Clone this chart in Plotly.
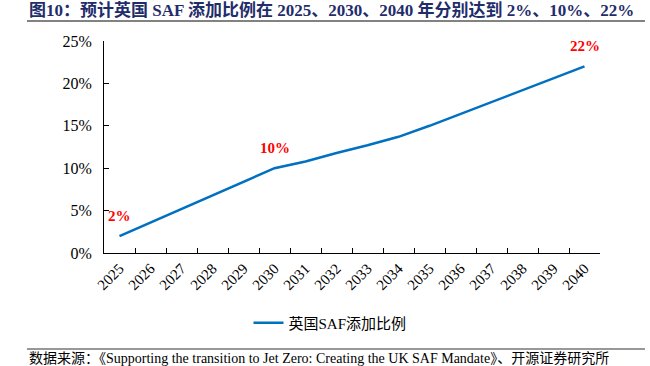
import plotly.graph_objects as go

years = [str(y) for y in range(2025, 2041)]
saf_share = [2.0, 3.6, 5.2, 6.8, 8.4, 10.0, 10.8, 11.8, 12.7, 13.7, 15.0, 16.4, 17.8, 19.2, 20.6, 22.0]
label_years = ["2025", "2030", "2040"]
label_texts = ["2%", "10%", "22%"]
series_name = "英国SAF添加比例"
title_text = "图10：预计英国 SAF 添加比例在 2025、2030、2040 年分别达到 2%、10%、22%"
source_text = "数据来源：《Supporting the transition to Jet Zero: Creating the UK SAF Mandate》、开源证券研究所"

SERIF = "Liberation Serif, Times New Roman, Noto Sans CJK SC, serif"

W, H = 650, 366
L, R, T, B = 104, 50, 41, 113
pw, ph = W - L - R, H - T - B

def px_x(p):
    return (p - L) / pw

def px_y(p):
    return (H - B - p) / ph

fig = go.Figure()
fig.add_trace(go.Scatter(
    x=years, y=saf_share, mode="lines", name=series_name,
    line=dict(color="#0070C0", width=2.5),
))

annotations = []
for yr, txt in zip(label_years, label_texts):
    i = years.index(yr)
    annotations.append(dict(
        x=i, y=saf_share[i], xref="x", yref="y",
        text=f"<b>{txt}</b>", showarrow=False, yshift=20,
        font=dict(family=SERIF, size=15, color="#FF0000"),
    ))

annotations.append(dict(
    x=px_x(27), y=px_y(10), xref="paper", yref="paper",
    xanchor="left", yanchor="middle", showarrow=False,
    text=f"<b>{title_text}</b>",
    font=dict(family=SERIF, size=17, color="#1F2D6B"),
))
annotations.append(dict(
    x=px_x(27), y=px_y(358), xref="paper", yref="paper",
    xanchor="left", yanchor="middle", showarrow=False,
    text=source_text,
    font=dict(family=SERIF, size=14, color="#000000"),
))

shapes = [
    dict(type="line", xref="paper", yref="paper",
         x0=px_x(27), x1=px_x(645), y0=px_y(21), y1=px_y(21),
         line=dict(color="#595959", width=1.5)),
    dict(type="line", xref="paper", yref="paper",
         x0=px_x(27), x1=px_x(645), y0=px_y(349), y1=px_y(349),
         line=dict(color="#333333", width=1.2)),
]

fig.update_layout(
    width=W, height=H,
    margin=dict(l=L, r=R, t=T, b=B, pad=0),
    paper_bgcolor="white", plot_bgcolor="white",
    showlegend=True,
    legend=dict(orientation="h", x=px_x(330), xanchor="center", y=px_y(323), yanchor="middle",
                font=dict(family=SERIF, size=15, color="#000000"),
                bgcolor="rgba(0,0,0,0)"),
    annotations=annotations,
    shapes=shapes,
    xaxis=dict(
        type="category", showgrid=False, showline=True, linecolor="#000000", linewidth=1,
        ticks="inside", tickson="boundaries", ticklen=5, tickcolor="#000000",
        tickangle=-45, tickfont=dict(family=SERIF, size=15, color="#000000"),
        range=[-0.5, len(years) - 0.5],
    ),
    yaxis=dict(
        range=[0, 25], dtick=5, ticksuffix="%", showgrid=False, zeroline=False,
        showline=True, linecolor="#000000", linewidth=1,
        ticks="inside", ticklen=5, tickcolor="#000000",
        tickfont=dict(family=SERIF, size=16, color="#000000"),
        ticklabelstandoff=8,
    ),
)

fig.write_html("out.html", config={"displayModeBar": False},
               post_script="document.body.style.margin='0';")
